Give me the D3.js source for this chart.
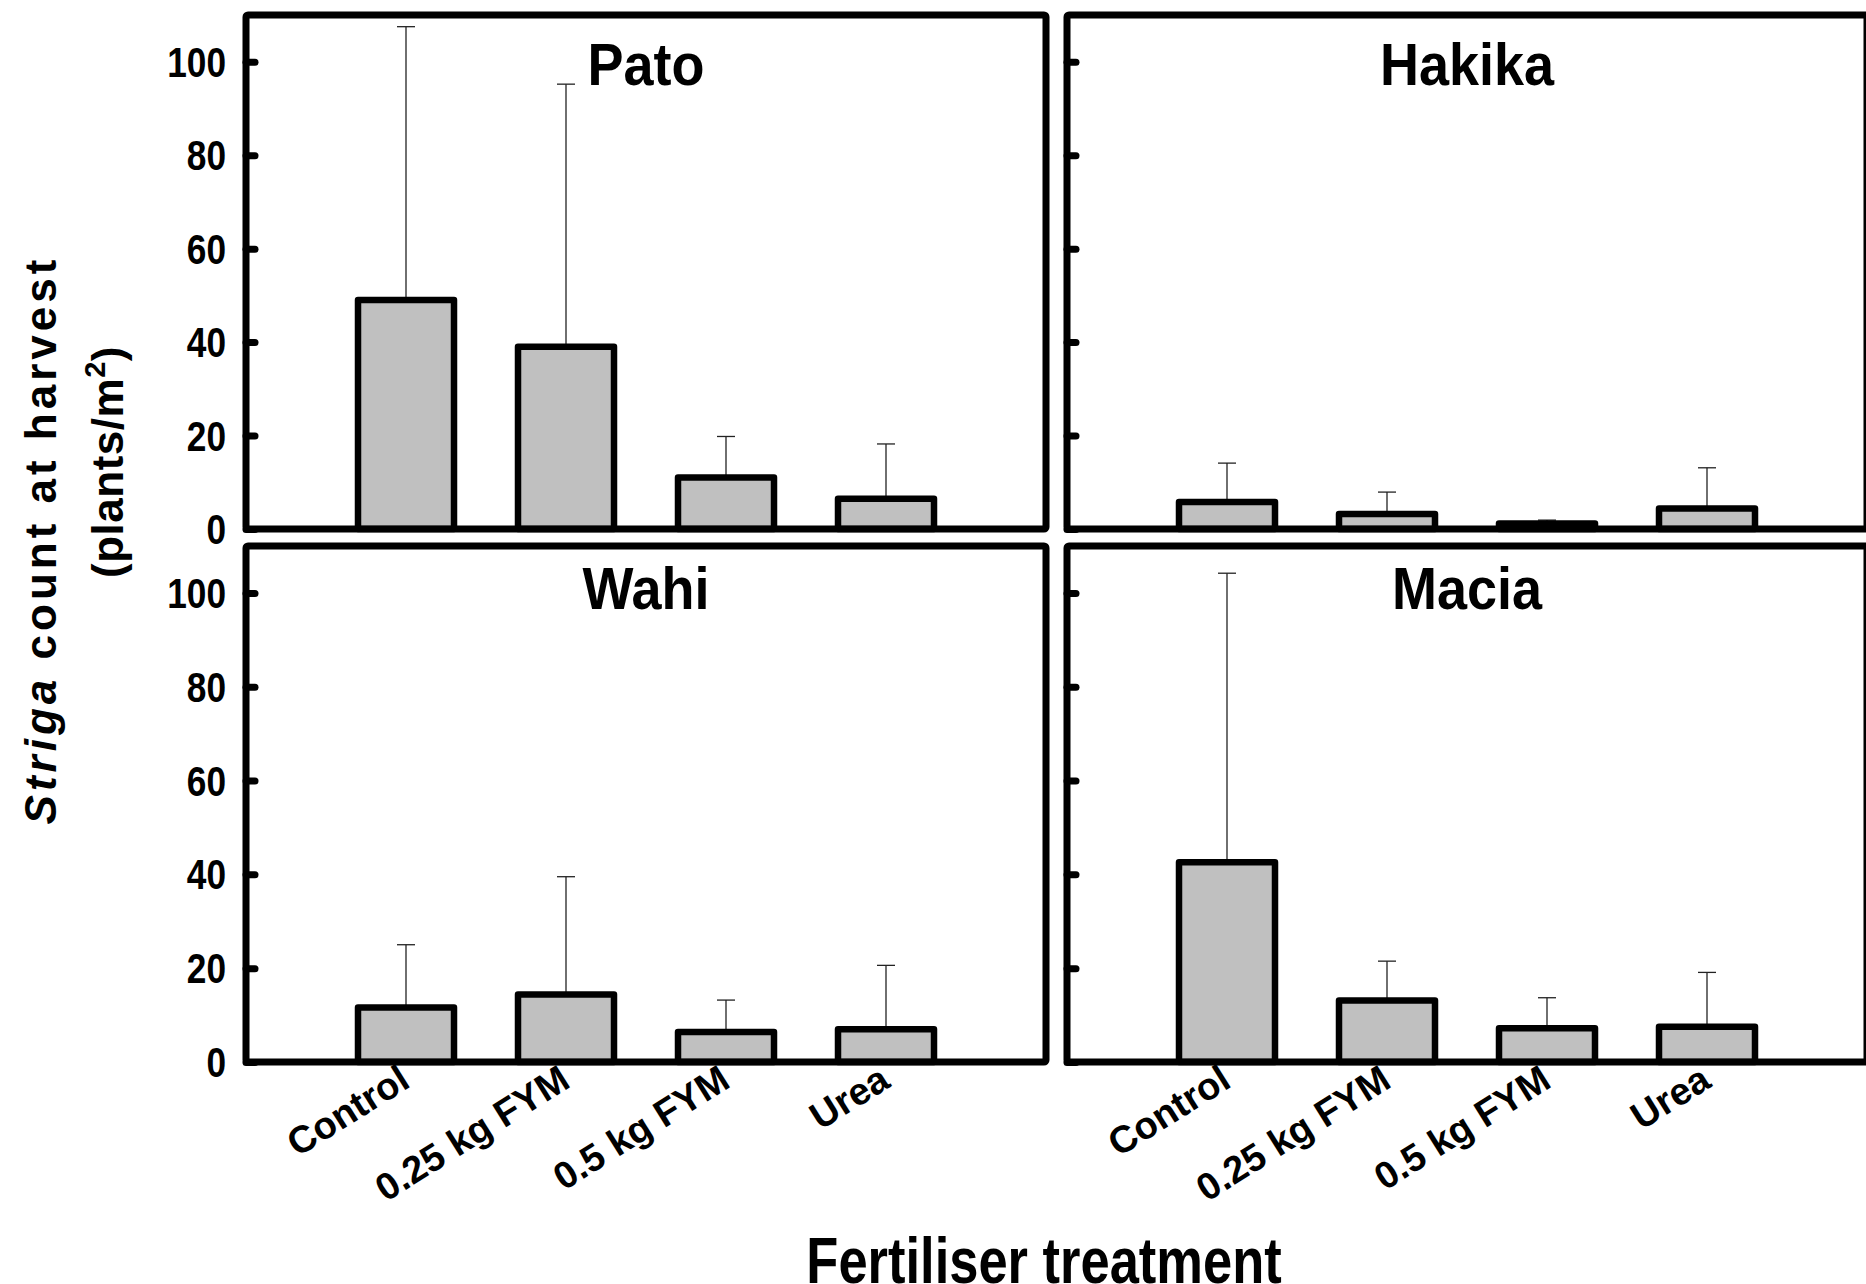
<!DOCTYPE html>
<html>
<head>
<meta charset="utf-8">
<script src="https://cdn.jsdelivr.net/npm/d3@7"></script>
<style>
  body { margin: 0; background: #fff; }
  svg { display: block; }
  text { font-family: "Liberation Sans", Arial, Helvetica, sans-serif; font-weight: bold; }
</style>
</head>
<body>
<script>
// treatments on the x axis
const categories = ["Control", "0.25 kg FYM", "0.5 kg FYM", "Urea"];
const yTicks = [0, 20, 40, 60, 80, 100];

// mean striga count and upper error (SE) per variety
const patoMean = [49, 39, 11, 6.5];
const patoErr = [58.5, 56.2, 8.8, 11.7];
const hakikaMean = [5.8, 3.2, 1.2, 4.4];
const hakikaErr = [8.3, 4.7, 0.7, 8.7];
const wahiMean = [11.6, 14.4, 6.4, 7.0];
const wahiErr = [13.4, 25.1, 6.8, 13.6];
const maciaMean = [42.6, 13.1, 7.2, 7.5];
const maciaErr = [61.6, 8.4, 6.5, 11.6];

const width = 1866, height = 1284;

const panels = [
  {name: "Pato", mean: patoMean, err: patoErr, col: 0, row: 0},
  {name: "Hakika", mean: hakikaMean, err: hakikaErr, col: 1, row: 0},
  {name: "Wahi", mean: wahiMean, err: wahiErr, col: 0, row: 1},
  {name: "Macia", mean: maciaMean, err: maciaErr, col: 1, row: 1}
];

// panel boxes
const colX = [[246, 1046], [1067, 1867]];
const rowY = [[15, 529], [546, 1062]];

const svg = d3.select("body")
  .append("svg")
    .attr("width", width)
    .attr("height", height);

panels.forEach(p => {
  const [x0, x1] = colX[p.col];
  const [y0, y1] = rowY[p.row];

  const x = d3.scalePoint()
    .domain(categories)
    .range([0, x1 - x0])
    .padding(1);
  const barW = 96;

  const y = d3.scaleLinear()
    .domain([0, 110])
    .range([y1 - y0, 0]);

  const g = svg.append("g")
    .attr("transform", `translate(${x0},${y0})`);

  const rows = categories.map((c, i) => ({cat: c, mean: p.mean[i], err: p.err[i]}));

  // error bars (upper only)
  const eb = g.selectAll(".err")
    .data(rows)
    .enter()
    .append("g")
      .attr("class", "err")
      .attr("stroke", "#222")
      .attr("stroke-width", 1.3);
  eb.append("line")
    .attr("x1", d => x(d.cat))
    .attr("x2", d => x(d.cat))
    .attr("y1", d => y(d.mean))
    .attr("y2", d => y(d.mean + d.err));
  eb.append("line")
    .attr("x1", d => x(d.cat) - 9)
    .attr("x2", d => x(d.cat) + 9)
    .attr("y1", d => y(d.mean + d.err))
    .attr("y2", d => y(d.mean + d.err));

  // bars
  g.selectAll(".bar")
    .data(rows)
    .enter()
    .append("rect")
      .attr("class", "bar")
      .attr("x", d => x(d.cat) - barW / 2)
      .attr("width", barW)
      .attr("y", d => y(d.mean))
      .attr("height", d => y(0) - y(d.mean))
      .attr("fill", "#c0c0c0")
      .attr("stroke", "#000")
      .attr("stroke-width", 6.5)
      .attr("stroke-linejoin", "round");

  // y axis ticks pointing inward
  const yAxis = g.append("g")
    .call(d3.axisRight(y).tickValues(yTicks).tickSize(9).tickFormat(""));
  yAxis.select(".domain").remove();
  yAxis.selectAll("line")
    .attr("stroke", "#000")
    .attr("stroke-width", 7)
    .attr("stroke-linecap", "round");

  // tick labels, condensed look
  if (p.col === 0) {
    g.append("g")
      .selectAll("text")
      .data(yTicks)
      .enter()
      .append("text")
        .attr("transform", d => `translate(-20,${y(d)})scale(0.84,1)`)
        .attr("dy", "0.36em")
        .attr("text-anchor", "end")
        .attr("font-size", 42)
        .text(d => d);
  }

  // frame
  g.append("rect")
    .attr("width", x1 - x0)
    .attr("height", y1 - y0)
    .attr("fill", "none")
    .attr("stroke", "#000")
    .attr("stroke-width", 7)
    .attr("rx", 2);

  // variety name
  g.append("text")
    .attr("transform", `translate(${(x1 - x0) / 2},${p.row === 0 ? 70 : 63})scale(0.9,1)`)
    .attr("text-anchor", "middle")
    .attr("font-size", 60)
    .text(p.name);

  // x labels under bottom row
  if (p.row === 1) {
    g.selectAll(".xlab")
      .data(categories)
      .enter()
      .append("text")
        .attr("font-size", 38)
        .attr("text-anchor", "end")
        .attr("transform", d => `translate(${x(d) + 6},${y1 - y0 + 24})rotate(-32)`)
        .text(d => d);
  }
});

// axis titles
svg.append("text")
  .attr("transform", "translate(1044,1283)scale(0.82,1)")
  .attr("text-anchor", "middle")
  .attr("font-size", 64)
  .text("Fertiliser treatment");

const yt1 = svg.append("text")
  .attr("font-size", 44)
  .attr("letter-spacing", 4)
  .attr("text-anchor", "middle")
  .attr("transform", "translate(56,540)rotate(-90)");
yt1.append("tspan").attr("font-style", "italic").text("Striga");
yt1.append("tspan").text(" count at harvest");

const yt2 = svg.append("text")
  .attr("font-size", 44)
  .attr("letter-spacing", 0.5)
  .attr("text-anchor", "middle")
  .attr("transform", "translate(123,462)rotate(-90)");
yt2.append("tspan").text("(plants/m");
yt2.append("tspan").attr("font-size", 29).attr("dy", -18).text("2");
yt2.append("tspan").attr("dy", 18).text(")");
</script>
</body>
</html>
